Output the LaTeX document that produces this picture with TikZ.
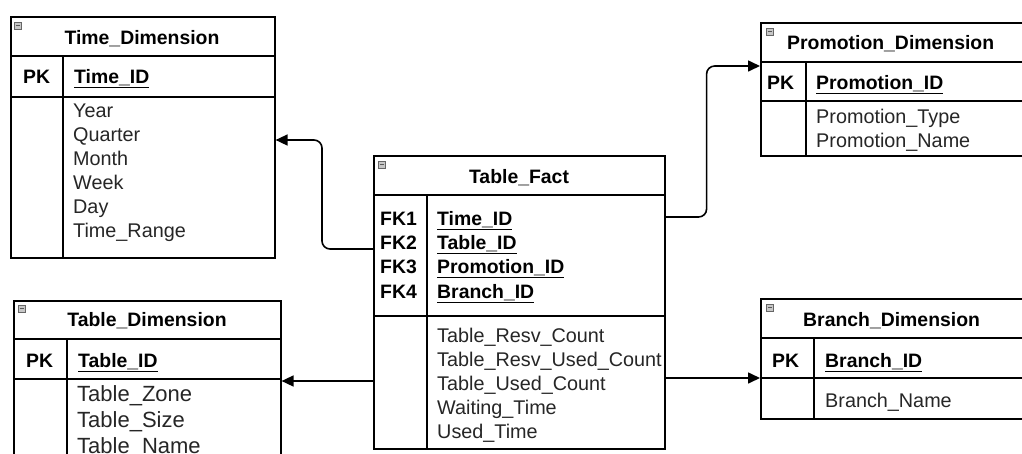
\documentclass[tikz,border=0pt]{standalone}
\usepackage{fontspec}
\setmainfont{Liberation Sans}
\usetikzlibrary{arrows.meta,calc}

\newcommand\fieldfont{\fontsize{19.8}{24}\selectfont}
\newcommand\titlefont{\fontsize{19.4}{24}\selectfont}
\newcommand\bigfieldfont{\fontsize{22}{26}\selectfont}
\newcommand\keyname[1]{\underline{#1}}

\tikzset{
  tbl/.style={draw, line width=1.6pt, inner sep=0pt, anchor=north west},
  sepline/.style={line width=1.6pt},
  tbltitle/.style={font=\bfseries\titlefont, anchor=base, inner sep=0pt},
  keytag/.style={font=\bfseries\titlefont, anchor=base west, inner sep=0pt},
  keyfield/.style={font=\bfseries\titlefont, anchor=base west, inner sep=0pt},
  attr/.style={font=\fieldfont, anchor=base west, inner sep=0pt, text=black!85},
  bigattr/.style={font=\bigfieldfont, anchor=base west, inner sep=0pt, text=black!85},
  collapse/.style={draw=black!60, fill=black!22, line width=0.7pt, minimum width=7pt,
    minimum height=7pt, inner sep=0pt, anchor=north west},
  link/.style={line width=1.6pt, rounded corners=8pt, -{Triangle[length=12pt,width=11pt]}}
}

\begin{document}
\begin{tikzpicture}[x=1pt,y=-1pt]
\useasboundingbox (0,0) rectangle (1022,453);
\clip (0,0) rectangle (1022,453);
\fill[white] (0,0) rectangle (1022,453);

% ---------- Time_Dimension ----------
\node[tbl, minimum width=264pt, minimum height=241pt] (time) at (10,16) {};
\draw[sepline] (10,56) -- (274,56) (10,97) -- (274,97) (63,56) -- (63,257);
\node[collapse] (timeicon) at (14,22) {};
\draw[black!65, line width=0.7pt] (15.5,25.5) -- (19.5,25.5);
\node[tbltitle] (timetitle) at (142,44) {Time\_Dimension};
\node[keytag] (timepk) at (23,83) {PK};
\node[keyfield] (timeid) at (74,83) {\keyname{Time\_ID}};
\node[attr] (timea1) at (73,117) {Year};
\node[attr] (timea2) at (73,141) {Quarter};
\node[attr] (timea3) at (73,165) {Month};
\node[attr] (timea4) at (73,189) {Week};
\node[attr] (timea5) at (73,213) {Day};
\node[attr] (timea6) at (73,237) {Time\_Range};

% ---------- Table_Fact ----------
\node[tbl, minimum width=291pt, minimum height=293pt] (fact) at (373,155) {};
\draw[sepline] (373,195) -- (664,195) (373,316) -- (664,316) (427,195) -- (427,448);
\node[collapse] (facticon) at (378,161) {};
\draw[black!65, line width=0.7pt] (379.5,164.5) -- (383.5,164.5);
\node[tbltitle] (facttitle) at (519,183) {Table\_Fact};
\node[keytag] (fk1) at (380,225) {FK1};
\node[keytag] (fk2) at (380,249) {FK2};
\node[keytag] (fk3) at (380,273.5) {FK3};
\node[keytag] (fk4) at (380,298) {FK4};
\node[keyfield] (fkn1) at (437,225) {\keyname{Time\_ID}};
\node[keyfield] (fkn2) at (437,249) {\keyname{Table\_ID}};
\node[keyfield] (fkn3) at (437,273.5) {\keyname{Promotion\_ID}};
\node[keyfield] (fkn4) at (437,298) {\keyname{Branch\_ID}};
\node[attr] (facta1) at (437,342) {Table\_Resv\_Count};
\node[attr] (facta2) at (437,366) {Table\_Resv\_Used\_Count};
\node[attr] (facta3) at (437,390) {Table\_Used\_Count};
\node[attr] (facta4) at (437,414) {Waiting\_Time};
\node[attr] (facta5) at (437,438) {Used\_Time};

% ---------- Table_Dimension ----------
\node[tbl, minimum width=267pt, minimum height=180pt] (tdim) at (13,300) {};
\draw[sepline] (13,339) -- (280,339) (13,379) -- (280,379) (67,339) -- (67,480);
\node[collapse] (tdimicon) at (18,305) {};
\draw[black!65, line width=0.7pt] (19.5,308.5) -- (23.5,308.5);
\node[tbltitle] (tdimtitle) at (147,326) {Table\_Dimension};
\node[keytag] (tdimpk) at (26,367) {PK};
\node[keyfield] (tdimid) at (78,367) {\keyname{Table\_ID}};
\node[bigattr] (tdima1) at (77,401) {Table\_Zone};
\node[bigattr] (tdima2) at (77,427) {Table\_Size};
\node[bigattr] (tdima3) at (77,453) {Table\_Name};

% ---------- Promotion_Dimension ----------
\node[tbl, minimum width=300pt, minimum height=133pt] (promo) at (760,22) {};
\draw[sepline] (760,62) -- (1060,62) (760,101) -- (1060,101) (806,62) -- (806,155);
\node[collapse] (promoicon) at (766,28) {};
\draw[black!65, line width=0.7pt] (767.5,31.5) -- (771.5,31.5);
\node[tbltitle, anchor=base west] (promotitle) at (787,49) {Promotion\_Dimension};
\node[keytag] (promopk) at (767,89) {PK};
\node[keyfield] (promoid) at (816,89) {\keyname{Promotion\_ID}};
\node[attr] (promoa1) at (816,123) {Promotion\_Type};
\node[attr] (promoa2) at (816,147) {Promotion\_Name};

% ---------- Branch_Dimension ----------
\node[tbl, minimum width=300pt, minimum height=120pt] (branch) at (760,298) {};
\draw[sepline] (760,338) -- (1060,338) (760,378) -- (1060,378) (814,338) -- (814,418);
\node[collapse] (branchicon) at (766,304) {};
\draw[black!65, line width=0.7pt] (767.5,307.5) -- (771.5,307.5);
\node[tbltitle, anchor=base west] (branchtitle) at (803,326) {Branch\_Dimension};
\node[keytag] (branchpk) at (772,367) {PK};
\node[keyfield] (branchid) at (825,367) {\keyname{Branch\_ID}};
\node[attr] (brancha1) at (825,407) {Branch\_Name};

% ---------- relationships ----------
\coordinate (factT) at ($(fact.north west)+(0,94)$);
\coordinate (timeIn) at ($(time.north east)+(0,124)$);
\draw[link] (factT) -- ++(-51,0) |- (timeIn);

\coordinate (factP) at ($(fact.north east)+(0,62)$);
\coordinate (promoIn) at ($(promo.north west)+(0,44)$);
\draw[link] (factP) -- ++(41,0) |- (promoIn);

\coordinate (factD) at ($(fact.north west)+(0,226)$);
\draw[link] (factD) -- (tdim.east |- factD);

\coordinate (factB) at ($(fact.north east)+(0,223)$);
\draw[link] (factB) -- (branch.west |- factB);
\end{tikzpicture}
\end{document}
